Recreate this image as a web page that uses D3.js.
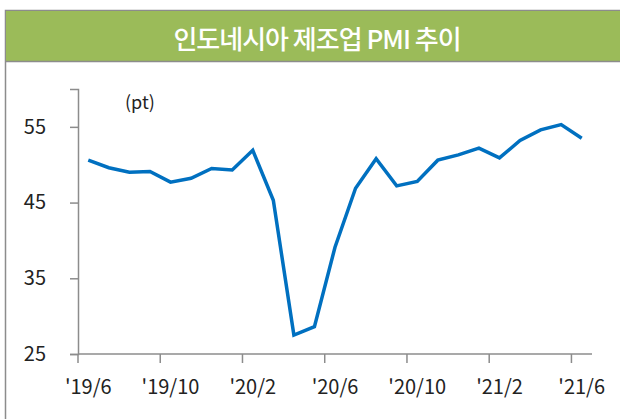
<!DOCTYPE html>
<html>
<head>
<meta charset="utf-8">
<script src="https://cdn.jsdelivr.net/npm/d3@7"></script>
<style>
  body { margin: 0; background: #fff; }
  svg text { font-family: "Noto Sans CJK KR", "Noto Sans", sans-serif; }
</style>
</head>
<body>
<div id="chart"></div>
<script>
// --- data ---
const months = [
  "19/6", "19/7", "19/8", "19/9", "19/10", "19/11", "19/12",
  "20/1", "20/2", "20/3", "20/4", "20/5", "20/6", "20/7", "20/8",
  "20/9", "20/10", "20/11", "20/12", "21/1", "21/2", "21/3", "21/4",
  "21/5", "21/6"
];
const pmi = [
  50.6, 49.6, 49.0, 49.1, 47.7, 48.2, 49.5,
  49.3, 51.9, 45.3, 27.5, 28.6, 39.1, 46.9, 50.8,
  47.2, 47.8, 50.6, 51.3, 52.2, 50.9, 53.2, 54.6,
  55.3, 53.5
];
const yTicks = [25, 35, 45, 55];
const xLabelMonths = ["19/6", "19/10", "20/2", "20/6", "20/10", "21/2", "21/6"];
const title = "인도네시아 제조업 PMI 추이";
const unit = "(pt)";

// --- setup ---
const W = 620, H = 419;
const margin = { top: 89, right: 28, bottom: 65, left: 78 };
const chartWidth = W - margin.left - margin.right;
const chartHeight = H - margin.top - margin.bottom;

const root = d3.select("#chart").append("svg")
  .attr("width", W)
  .attr("height", H);

// frame + title bar
root.append("rect")
  .attr("x", 5.5).attr("y", 10.5)
  .attr("width", W + 10).attr("height", H + 10)
  .attr("fill", "none")
  .attr("stroke", "#8c8c8c")
  .attr("stroke-width", 1.5);

root.append("rect")
  .attr("x", 6).attr("y", 11)
  .attr("width", W).attr("height", 50.5)
  .attr("fill", "#9bbb59");

root.append("line")
  .attr("x1", 6).attr("x2", W)
  .attr("y1", 61.5).attr("y2", 61.5)
  .attr("stroke", "#8c8c8c")
  .attr("stroke-width", 1.5);

root.append("text")
  .attr("x", 317).attr("y", 37)
  .attr("text-anchor", "middle")
  .attr("dominant-baseline", "central")
  .attr("fill", "#fff")
  .attr("font-size", 26)
  .attr("font-weight", 500)
  .attr("letter-spacing", -1)
  .text(title);

const svg = root.append("g")
  .attr("transform", `translate(${margin.left},${margin.top})`);

// --- scales ---
const x = d3.scaleBand()
  .domain(months)
  .range([0, chartWidth])
  .padding(0);

const y = d3.scaleLinear()
  .domain([25, 60])
  .range([chartHeight, 0]);

const axisColor = "#8c8c8c";

// y axis
const yAxis = svg.append("g")
  .call(d3.axisLeft(y).tickValues(yTicks).tickSize(8).tickPadding(24));
yAxis.select(".domain").attr("stroke", axisColor).attr("stroke-width", 1.5);
yAxis.selectAll(".tick line").attr("stroke", axisColor).attr("stroke-width", 1.5);
yAxis.selectAll(".tick text")
  .attr("font-size", 20)
  .attr("fill", "#222")
  .attr("font-family", "'Noto Sans CJK KR', sans-serif");

// x axis: ticks at band edges, labels at band centers
const xAxis = svg.append("g")
  .attr("transform", `translate(0,${chartHeight})`);
xAxis.append("line")
  .attr("x1", 0).attr("x2", chartWidth)
  .attr("stroke", axisColor).attr("stroke-width", 1.5);

const xt = xAxis.selectAll(".xtick")
  .data(xLabelMonths)
  .enter().append("g")
  .attr("class", "xtick");
xt.append("line")
  .attr("x1", d => x(d)).attr("x2", d => x(d))
  .attr("y1", 0).attr("y2", 9)
  .attr("stroke", axisColor).attr("stroke-width", 1.5);
xt.append("text")
  .attr("x", d => x(d) + x.bandwidth() / 2)
  .attr("y", 31)
  .attr("text-anchor", "middle")
  .attr("dominant-baseline", "central")
  .attr("font-size", 20)
  .attr("fill", "#222")
  .text(d => "'" + d);

// unit label
svg.append("text")
  .attr("x", 47).attr("y", 12)
  .attr("dominant-baseline", "central")
  .attr("font-size", 18)
  .attr("fill", "#222")
  .text(unit);

// --- line ---
const line = d3.line()
  .x((d, i) => x(months[i]) + x.bandwidth() / 2)
  .y(d => y(d));

svg.append("path")
  .datum(pmi)
  .attr("d", line)
  .attr("fill", "none")
  .attr("stroke", "#0070c0")
  .attr("stroke-width", 3.5)
  .attr("stroke-linejoin", "miter");
</script>
</body>
</html>
